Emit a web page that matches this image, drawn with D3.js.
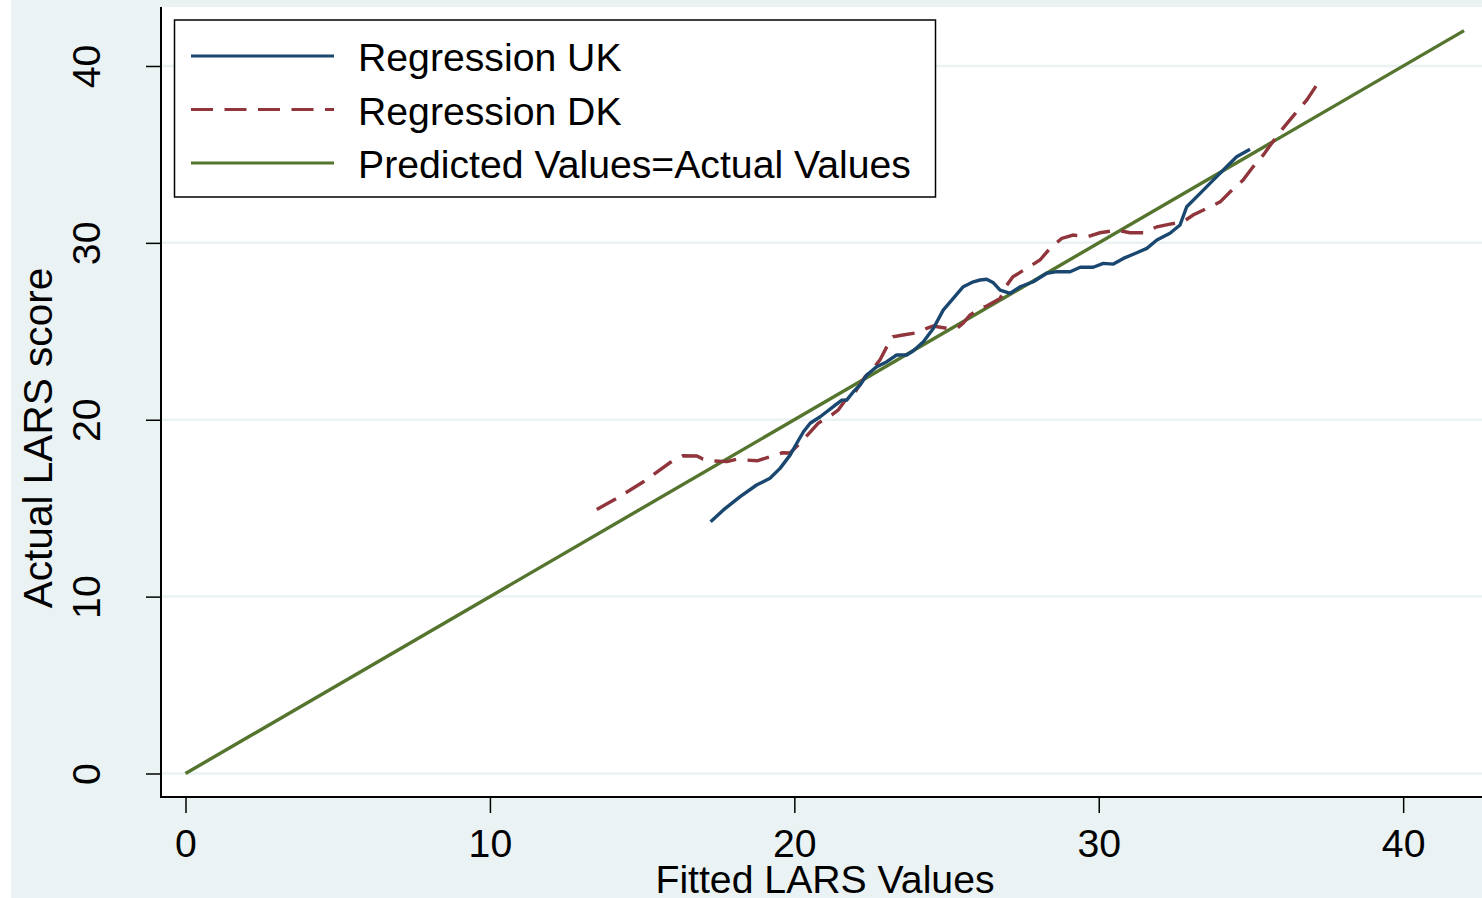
<!DOCTYPE html>
<html>
<head>
<meta charset="utf-8">
<script src="https://cdn.jsdelivr.net/npm/d3@7"></script>
<style>
  html, body { margin: 0; padding: 0; background: #ffffff; }
  svg { display: block; font-family: "Liberation Sans", Arial, sans-serif; }
</style>
</head>
<body>
<svg id="chart" width="1482" height="898"></svg>
<script>
// Lowess fits of actual vs fitted LARS score, by country
const ukFitted = [17.25, 17.67, 18.22, 18.76, 19.20, 19.53, 19.86, 20.08, 20.30, 20.52, 20.85, 21.28, 21.56, 21.72, 21.94, 22.16, 22.38, 22.71, 23.04, 23.36, 23.69, 23.91, 24.24, 24.57, 24.89, 25.22, 25.55, 25.88, 26.10, 26.32, 26.54, 26.76, 27.09, 27.42, 27.85, 28.29, 28.62, 29.06, 29.39, 29.82, 30.15, 30.48, 30.81, 31.25, 31.58, 31.91, 32.34, 32.67, 32.89, 33.33, 33.76, 34.20, 34.53, 34.97];
const ukActual = [14.23, 14.90, 15.65, 16.31, 16.69, 17.25, 18.00, 18.67, 19.32, 19.80, 20.17, 20.74, 21.11, 21.11, 21.58, 21.96, 22.53, 23.00, 23.28, 23.66, 23.66, 23.90, 24.41, 25.17, 26.20, 26.86, 27.52, 27.80, 27.90, 27.94, 27.74, 27.33, 27.15, 27.52, 27.80, 28.28, 28.37, 28.37, 28.62, 28.62, 28.84, 28.80, 29.12, 29.44, 29.69, 30.16, 30.54, 31.01, 32.04, 32.80, 33.55, 34.30, 34.87, 35.29];

const dkFitted = [13.51, 14.11, 15.03, 15.92, 16.34, 16.80, 17.00, 17.33, 17.79, 18.12, 18.45, 18.78, 19.20, 19.60, 19.86, 20.19, 20.52, 20.78, 21.23, 21.44, 21.72, 22.00, 22.32, 22.54, 22.81, 23.04, 23.24, 23.57, 24.02, 24.35, 24.56, 25.01, 25.34, 25.54, 25.77, 26.10, 26.32, 26.76, 26.98, 27.18, 27.63, 28.07, 28.40, 28.78, 29.16, 29.61, 30.04, 30.59, 31.03, 31.46, 31.91, 32.34, 32.77, 33.10, 33.55, 33.99, 34.32, 34.74, 35.07, 35.40, 35.72, 36.05, 36.50, 36.83, 37.16];
const dkActual = [14.93, 15.50, 16.48, 17.58, 17.96, 17.95, 17.78, 17.67, 17.63, 17.78, 17.72, 17.68, 17.91, 18.13, 18.12, 18.68, 19.30, 19.80, 20.27, 20.55, 21.21, 21.58, 22.43, 22.81, 23.37, 24.13, 24.69, 24.79, 24.92, 25.17, 25.30, 25.17, 25.17, 25.45, 25.92, 26.30, 26.43, 26.86, 27.61, 28.08, 28.56, 29.03, 29.69, 30.25, 30.44, 30.34, 30.57, 30.72, 30.57, 30.57, 30.91, 31.06, 31.19, 31.57, 31.95, 32.32, 32.89, 33.55, 34.30, 34.96, 35.72, 36.47, 37.41, 38.07, 38.92];

// Reference line: predicted = actual
const identityEnds = [0, 42];

const xTicks = [0, 10, 20, 30, 40];
const yTicks = [0, 10, 20, 30, 40];

const legendLabels = ["Regression UK", "Regression DK", "Predicted Values=Actual Values"];
const xTitle = "Fitted LARS Values";
const yTitle = "Actual LARS score";

const colUK = "#1a476f", colDK = "#90353b", colId = "#55752f";
const bg = "#eaf2f3";

const svg = d3.select("#chart");
const W = 1482, H = 898;
const plot = { left: 161, right: 1482, top: 7, bottom: 797 };
const fontSize = 39.2;
const lineW = 3.4;

const x = d3.scaleLinear().domain([-0.805, 42.59]).range([plot.left, plot.right]);
const y = d3.scaleLinear().domain([-1.329, 43.335]).range([plot.bottom, plot.top]);

// outer graph region
svg.append("rect").attr("x", 11).attr("y", 0).attr("width", W - 11).attr("height", H).attr("fill", bg);
// plot region
svg.append("rect").attr("x", plot.left).attr("y", plot.top)
  .attr("width", plot.right - plot.left).attr("height", plot.bottom - plot.top).attr("fill", "#ffffff");

// horizontal grid
svg.append("g").selectAll("line").data(yTicks).join("line")
  .attr("x1", plot.left).attr("x2", plot.right)
  .attr("y1", d => y(d)).attr("y2", d => y(d))
  .attr("stroke", bg).attr("stroke-width", 2.5);

// y axis
const yAxis = svg.append("g").attr("transform", `translate(${plot.left},0)`)
  .call(d3.axisLeft(y).tickValues(yTicks).tickSize(15).tickFormat(d3.format("d")));
yAxis.select(".domain").remove();
yAxis.selectAll(".tick line").attr("stroke", "#000").attr("stroke-width", 1.5);
yAxis.selectAll(".tick text").remove();
yAxis.selectAll(".tick").append("text")
  .attr("transform", "translate(-61,0) rotate(-90)")
  .attr("text-anchor", "middle")
  .attr("fill", "#000")
  .style("font-size", fontSize + "px")
  .style("font-family", "'Liberation Sans', Arial, sans-serif")
  .text(d => d);

// x axis
const xAxis = svg.append("g").attr("transform", `translate(0,${plot.bottom})`)
  .call(d3.axisBottom(x).tickValues(xTicks).tickSize(16).tickFormat(d3.format("d")));
xAxis.select(".domain").remove();
xAxis.selectAll(".tick line").attr("stroke", "#000").attr("stroke-width", 1.5);
xAxis.selectAll(".tick text").remove();
xAxis.selectAll(".tick").append("text")
  .attr("y", 60)
  .attr("text-anchor", "middle")
  .attr("fill", "#000")
  .style("font-size", fontSize + "px")
  .style("font-family", "'Liberation Sans', Arial, sans-serif")
  .text(d => d);

// axis lines
svg.append("line").attr("x1", plot.left).attr("x2", plot.left).attr("y1", plot.top).attr("y2", plot.bottom + 1)
  .attr("stroke", "#000").attr("stroke-width", 2);
svg.append("line").attr("x1", plot.left).attr("x2", plot.right).attr("y1", plot.bottom).attr("y2", plot.bottom)
  .attr("stroke", "#000").attr("stroke-width", 2);

// axis titles
svg.append("text").attr("x", 825).attr("y", 893).attr("text-anchor", "middle")
  .style("font-size", fontSize + "px").text(xTitle);
svg.append("text").attr("transform", "translate(52,438) rotate(-90)").attr("text-anchor", "middle")
  .style("font-size", "40.6px").text(yTitle);

// series
const line = d3.line().x(d => x(d[0])).y(d => y(d[1]));
const plotG = svg.append("g");

plotG.append("path").datum(identityEnds.map(v => [v, v]))
  .attr("d", line).attr("fill", "none").attr("stroke", colId).attr("stroke-width", lineW);

plotG.append("path").datum(dkFitted.map((v, i) => [v, dkActual[i]]))
  .attr("d", line).attr("fill", "none").attr("stroke", colDK).attr("stroke-width", lineW)
  .attr("stroke-dasharray", "22 11.5");

plotG.append("path").datum(ukFitted.map((v, i) => [v, ukActual[i]]))
  .attr("d", line).attr("fill", "none").attr("stroke", colUK).attr("stroke-width", lineW)
  .attr("stroke-linejoin", "round");

// legend
const lg = svg.append("g");
lg.append("rect").attr("x", 174.5).attr("y", 20).attr("width", 761).attr("height", 177)
  .attr("fill", "#fff").attr("stroke", "#000").attr("stroke-width", 1.5);
const legendStyles = [
  { color: colUK, dash: null },
  { color: colDK, dash: "22 11.5" },
  { color: colId, dash: null }
];
legendLabels.forEach((lab, i) => {
  const cy = 56 + i * 53.5;
  lg.append("line").attr("x1", 191).attr("x2", 334).attr("y1", cy).attr("y2", cy)
    .attr("stroke", legendStyles[i].color).attr("stroke-width", 3)
    .attr("stroke-dasharray", legendStyles[i].dash);
  lg.append("text").attr("x", 358).attr("y", cy + 15)
    .style("font-size", fontSize + "px").text(lab);
});
</script>
</body>
</html>
